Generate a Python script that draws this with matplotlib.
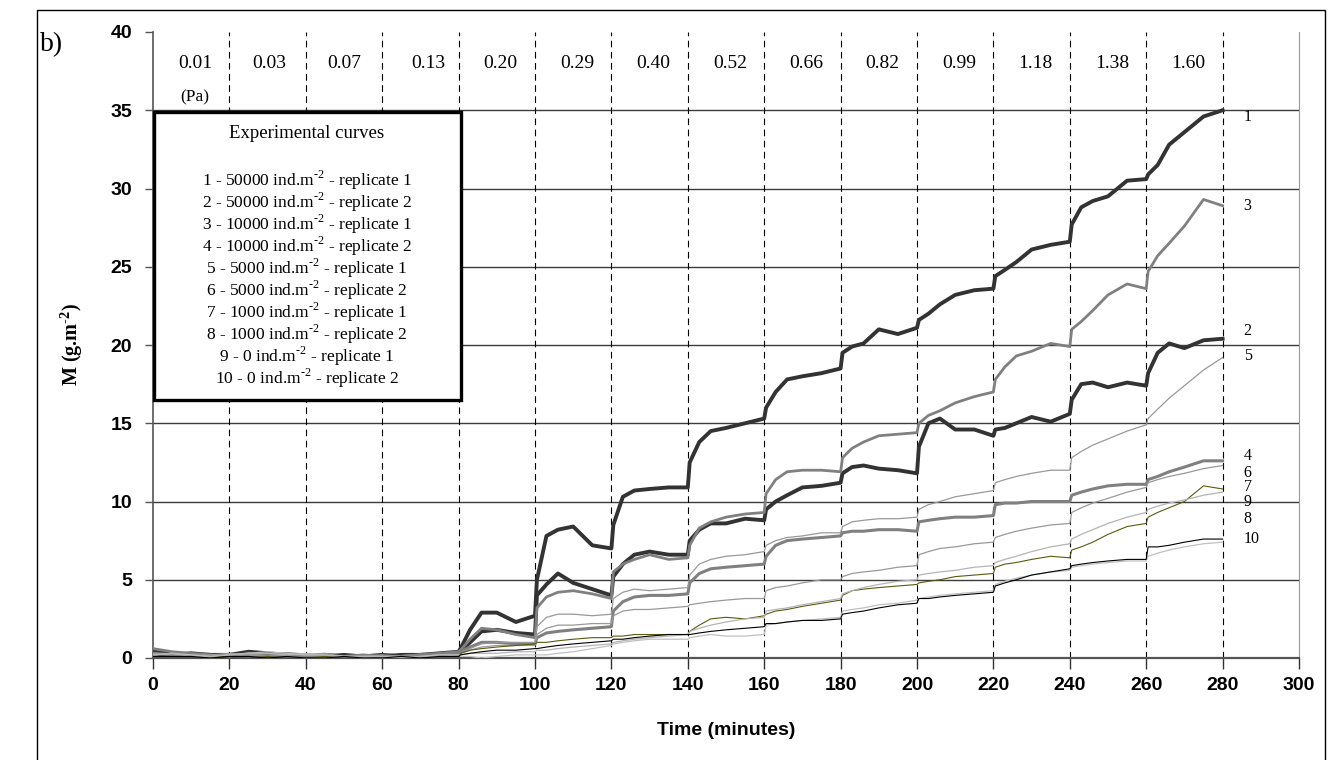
import numpy as np
import matplotlib.pyplot as plt
from matplotlib.patches import Rectangle

plt.rcParams['font.family'] = ['Liberation Sans', 'DejaVu Sans']
plt.rcParams['mathtext.fontset'] = 'custom'
plt.rcParams['mathtext.rm'] = 'Liberation Serif'
plt.rcParams['mathtext.bf'] = 'Liberation Serif:bold'

# sampling times (minutes)
time = [0, 5, 10, 15, 20, 25, 30, 35, 40, 45, 50, 55, 60, 65, 70, 75, 80,
        80.5, 83, 86, 90, 95, 100,
        100.5, 103, 106, 110, 115, 120,
        120.5, 123, 126, 130, 135, 140,
        140.5, 143, 146, 150, 155, 160,
        160.5, 163, 166, 170, 175, 180,
        180.5, 183, 186, 190, 195, 200,
        200.5, 203, 206, 210, 215, 220,
        220.5, 223, 226, 230, 235, 240,
        240.5, 243, 246, 250, 255, 260,
        260.5, 263, 266, 270, 275, 280]

# eroded mass M (g.m-2) for each core
m1 = [0.4, 0.3, 0.2, 0.2, 0.1, 0.3, 0.2, 0.2, 0.1, 0.1, 0.2, 0.1, 0.1, 0.2, 0.2, 0.3, 0.4,
      0.6, 1.8, 2.9, 2.9, 2.3, 2.7,
      5.0, 7.8, 8.2, 8.4, 7.2, 7.0,
      8.5, 10.3, 10.7, 10.8, 10.9, 10.9,
      12.5, 13.8, 14.5, 14.7, 15.0, 15.3,
      16.0, 17.0, 17.8, 18.0, 18.2, 18.5,
      19.5, 19.9, 20.1, 21.0, 20.7, 21.1,
      21.6, 22.0, 22.6, 23.2, 23.5, 23.6,
      24.4, 24.8, 25.3, 26.1, 26.4, 26.6,
      27.7, 28.8, 29.2, 29.5, 30.5, 30.6,
      30.9, 31.5, 32.8, 33.6, 34.6, 35.0]
m2 = [0.3, 0.2, 0.3, 0.2, 0.2, 0.4, 0.3, 0.2, 0.1, 0.2, 0.1, 0.1, 0.2, 0.1, 0.2, 0.2, 0.3,
      0.4, 1.0, 1.7, 1.8, 1.6, 1.5,
      4.0, 4.7, 5.4, 4.8, 4.4, 4.0,
      5.2, 6.0, 6.6, 6.8, 6.6, 6.6,
      7.5, 8.2, 8.6, 8.6, 8.9, 8.8,
      9.5, 10.0, 10.4, 10.9, 11.0, 11.2,
      11.8, 12.2, 12.3, 12.1, 12.0, 11.8,
      13.5, 15.0, 15.3, 14.6, 14.6, 14.2,
      14.6, 14.7, 15.0, 15.4, 15.1, 15.6,
      16.5, 17.5, 17.6, 17.3, 17.6, 17.4,
      18.2, 19.5, 20.1, 19.8, 20.3, 20.4]
m3 = [0.6, 0.4, 0.3, 0.2, 0.1, 0.3, 0.2, 0.3, 0.2, 0.1, 0.1, 0.2, 0.1, 0.1, 0.2, 0.3, 0.4,
      0.5, 1.2, 1.9, 1.8, 1.5, 1.3,
      3.2, 3.9, 4.2, 4.3, 4.1, 3.8,
      5.5, 6.0, 6.3, 6.6, 6.3, 6.4,
      7.2, 8.3, 8.7, 9.0, 9.2, 9.3,
      10.5, 11.4, 11.9, 12.0, 12.0, 11.9,
      12.8, 13.4, 13.8, 14.2, 14.3, 14.4,
      15.0, 15.5, 15.8, 16.3, 16.7, 17.0,
      17.8, 18.6, 19.3, 19.6, 20.1, 19.9,
      21.0, 21.5, 22.2, 23.2, 23.9, 23.6,
      24.7, 25.7, 26.5, 27.6, 29.3, 28.9]
m4 = [0.3, 0.2, 0.2, 0.1, 0.2, 0.1, 0.2, 0.1, 0.1, 0.1, 0.0, 0.1, 0.1, 0.1, 0.2, 0.2, 0.3,
      0.4, 0.7, 1.0, 1.0, 0.9, 0.9,
      1.3, 1.6, 1.7, 1.8, 1.9, 2.0,
      3.0, 3.6, 3.9, 4.0, 4.0, 4.1,
      4.8, 5.4, 5.7, 5.8, 5.9, 6.0,
      6.5, 7.2, 7.5, 7.6, 7.7, 7.8,
      8.0, 8.1, 8.1, 8.2, 8.2, 8.1,
      8.7, 8.8, 8.9, 9.0, 9.0, 9.1,
      9.8, 9.9, 9.9, 10.0, 10.0, 10.0,
      10.4, 10.6, 10.8, 11.0, 11.1, 11.1,
      11.4, 11.6, 11.9, 12.2, 12.6, 12.6]
m5 = [0.2, 0.3, 0.2, 0.2, 0.3, 0.2, 0.3, 0.2, 0.2, 0.3, 0.1, 0.1, 0.2, 0.1, 0.1, 0.2, 0.2,
      0.3, 0.6, 0.9, 1.0, 1.0, 1.0,
      2.0, 2.6, 2.8, 2.8, 2.7, 2.8,
      3.8, 4.2, 4.4, 4.3, 4.4, 4.5,
      5.3, 6.0, 6.3, 6.5, 6.6, 6.8,
      7.2, 7.5, 7.7, 7.8, 8.0, 8.0,
      8.4, 8.7, 8.8, 8.9, 8.9, 9.0,
      9.5, 9.8, 10.0, 10.3, 10.5, 10.7,
      11.2, 11.4, 11.6, 11.8, 12.0, 12.0,
      12.8, 13.2, 13.6, 14.0, 14.5, 14.9,
      15.3, 15.9, 16.6, 17.4, 18.4, 19.2]
m6 = [0.3, 0.2, 0.2, 0.1, 0.1, 0.2, 0.1, 0.2, 0.2, 0.1, 0.1, 0.0, 0.1, 0.1, 0.1, 0.2, 0.2,
      0.3, 0.5, 0.7, 0.8, 0.8, 0.8,
      1.5, 1.9, 2.1, 2.1, 2.2, 2.2,
      2.7, 3.0, 3.1, 3.1, 3.2, 3.3,
      3.4, 3.5, 3.6, 3.7, 3.8, 3.8,
      4.3, 4.5, 4.6, 4.8, 5.0, 5.0,
      5.2, 5.4, 5.5, 5.6, 5.8, 5.9,
      6.6, 6.8, 7.0, 7.1, 7.3, 7.4,
      7.7, 7.9, 8.1, 8.3, 8.5, 8.6,
      9.3, 9.6, 9.9, 10.2, 10.6, 10.9,
      11.2, 11.4, 11.6, 11.8, 12.1, 12.3]
m7 = [0.1, 0.1, 0.0, 0.1, 0.1, 0.0, 0.1, 0.0, 0.0, 0.1, 0.0, 0.1, 0.0, 0.0, 0.1, 0.1, 0.2,
      0.3, 0.5, 0.6, 0.7, 0.8, 0.9,
      1.0, 1.0, 1.1, 1.2, 1.3, 1.3,
      1.4, 1.4, 1.5, 1.5, 1.5, 1.5,
      1.7, 2.1, 2.5, 2.6, 2.5, 2.7,
      2.8, 3.0, 3.1, 3.3, 3.5, 3.7,
      4.0, 4.3, 4.4, 4.5, 4.6, 4.7,
      4.8, 4.9, 5.0, 5.2, 5.3, 5.4,
      5.8, 6.0, 6.1, 6.3, 6.5, 6.4,
      6.9, 7.1, 7.4, 7.9, 8.4, 8.6,
      9.0, 9.3, 9.6, 10.0, 11.0, 10.8]
m8 = [0.2, 0.3, 0.2, 0.1, 0.2, 0.3, 0.4, 0.3, 0.2, 0.2, 0.1, 0.1, 0.1, 0.0, 0.1, 0.2, 0.2,
      0.1, 0.1, 0.0, 0.1, 0.2, 0.2,
      0.2, 0.2, 0.3, 0.4, 0.6, 0.8,
      0.9, 1.0, 1.1, 1.2, 1.2, 1.2,
      1.3, 1.4, 1.5, 1.4, 1.4, 1.5,
      2.1, 2.2, 2.3, 2.4, 2.5, 2.6,
      3.0, 3.1, 3.2, 3.4, 3.5, 3.7,
      3.8, 3.9, 4.0, 4.1, 4.2, 4.3,
      4.7, 4.9, 5.1, 5.3, 5.5, 5.6,
      5.8, 5.9, 6.0, 6.1, 6.2, 6.2,
      6.5, 6.7, 6.9, 7.1, 7.3, 7.4]
m9 = [0.2, 0.3, 0.1, 0.1, 0.2, 0.3, 0.3, 0.2, 0.3, 0.2, 0.1, 0.1, 0.1, 0.0, 0.1, 0.1, 0.2,
      0.2, 0.3, 0.3, 0.3, 0.4, 0.4,
      0.5, 0.5, 0.6, 0.7, 0.8, 0.9,
      1.0, 1.1, 1.2, 1.3, 1.4, 1.5,
      1.7, 1.9, 2.1, 2.3, 2.5, 2.6,
      3.0, 3.1, 3.2, 3.4, 3.6, 3.8,
      4.1, 4.3, 4.5, 4.7, 4.9, 5.0,
      5.3, 5.4, 5.5, 5.6, 5.8, 5.9,
      6.1, 6.3, 6.5, 6.8, 7.1, 7.3,
      7.6, 7.9, 8.2, 8.6, 9.0, 9.3,
      9.5, 9.7, 9.9, 10.1, 10.4, 10.6]
m10 = [0.1, 0.1, 0.1, 0.0, 0.1, 0.1, 0.0, 0.1, 0.0, 0.0, 0.1, 0.0, 0.0, 0.1, 0.0, 0.1, 0.1,
       0.2, 0.3, 0.4, 0.5, 0.5, 0.6,
       0.6, 0.7, 0.8, 0.9, 1.0, 1.1,
       1.2, 1.2, 1.3, 1.4, 1.5, 1.5,
       1.5, 1.6, 1.7, 1.8, 1.9, 2.0,
       2.2, 2.2, 2.3, 2.4, 2.4, 2.5,
       2.8, 2.9, 3.0, 3.2, 3.4, 3.5,
       3.8, 3.8, 3.9, 4.0, 4.1, 4.2,
       4.6, 4.8, 5.0, 5.3, 5.5, 5.7,
       5.9, 6.0, 6.1, 6.2, 6.3, 6.3,
       7.1, 7.1, 7.2, 7.4, 7.6, 7.6]

series = [m1, m2, m3, m4, m5, m6, m7, m8, m9, m10]
colors = ['#333333', '#333333', '#808080', '#808080', '#999999',
          '#999999', '#5a5a10', '#c0c0c0', '#b4b4b4', '#000000']
widths = [2.8, 2.8, 2.0, 2.2, 0.9, 0.9, 0.8, 0.9, 0.9, 0.8]

# bed shear stress applied during each 20 min step (Pa)
stress = ['0.01', '0.03', '0.07', '0.13', '0.20', '0.29', '0.40',
          '0.52', '0.66', '0.82', '0.99', '1.18', '1.38', '1.60']
stress_x = [11, 30.5, 50, 72, 91, 111, 131, 151, 171, 191, 211, 231, 251, 271]

curve_ids = ['1', '3', '2', '5', '4', '6', '7', '9', '8', '10']
curve_id_y = [34.6, 28.9, 20.9, 19.3, 12.9, 11.8, 10.9, 10.0, 8.9, 7.6]

legend_rows = [
    r'1 - 50000 ind.m$^{\text{-2}}$ - replicate 1',
    r'2 - 50000 ind.m$^{\text{-2}}$ - replicate 2',
    r'3 - 10000 ind.m$^{\text{-2}}$ - replicate 1',
    r'4 - 10000 ind.m$^{\text{-2}}$ - replicate 2',
    r'5 - 5000 ind.m$^{\text{-2}}$ - replicate 1',
    r'6 - 5000 ind.m$^{\text{-2}}$ - replicate 2',
    r'7 - 1000 ind.m$^{\text{-2}}$ - replicate 1',
    r'8 - 1000 ind.m$^{\text{-2}}$ - replicate 2',
    r'9 - 0 ind.m$^{\text{-2}}$ - replicate 1',
    r'10 - 0 ind.m$^{\text{-2}}$ - replicate 2',
]

fig = plt.figure(figsize=(13.36, 7.6), dpi=100)
ax = fig.add_axes([153 / 1336, 102 / 760, 1146 / 1336, 626 / 760])

# outer frame and panel letter
fig.add_artist(Rectangle((37 / 1336, -0.01), 1288 / 1336, 1.0 - 10 / 760 + 0.01,
                         transform=fig.transFigure, fill=False, ec='black', lw=1.0))
fig.text(40 / 1336, 1 - 45 / 760, 'b)', family='Liberation Serif', fontsize=20,
         va='center', ha='left')

for y in range(5, 40, 5):
    ax.axhline(y, color='#3c3c3c', lw=1.0, zorder=1)
for x in range(20, 300, 20):
    ax.axvline(x, color='black', lw=0.8, linestyle=(0, (6, 4)), zorder=1)

for m, c, w in zip(series, colors, widths):
    ax.plot(time, m, color=c, lw=w, zorder=3)

ax.set_xlim(0, 300)
ax.set_ylim(0, 40)
ax.set_xticks(range(0, 301, 20))
ax.set_yticks(range(0, 41, 5))
ax.spines['top'].set_visible(False)
ax.spines['right'].set_color('#999999')
ax.spines['left'].set_color('#555555')
ax.spines['bottom'].set_color('#555555')
ax.spines['bottom'].set_linewidth(1.6)
ax.spines['left'].set_linewidth(1.2)
ax.tick_params(axis='y', length=6, width=1, color='#555555', pad=9)
ax.tick_params(axis='x', length=8, width=1, color='#333333', pad=6)
for lab in ax.get_xticklabels() + ax.get_yticklabels():
    lab.set_fontweight('bold')
    lab.set_fontsize(14)

ax.set_xlabel('Time (minutes)', fontsize=14, fontweight='bold', labelpad=20)
ax.set_ylabel('M (g.m$^{\\mathbf{\u20102}}$)', fontsize=14.5, fontweight='bold',
              family='Liberation Serif', labelpad=18)

for s, x in zip(stress, stress_x):
    ax.text(x, 38.0, s, family='Liberation Serif', fontsize=14, ha='center', va='center')
ax.text(11, 35.8, '(Pa)', family='Liberation Serif', fontsize=12.5, ha='center', va='center')

for lab, y in zip(curve_ids, curve_id_y):
    ax.text(285.5, y, lab, family='Liberation Serif', fontsize=11.5, ha='left', va='center')

# legend box listing the experimental curves
ax.add_patch(Rectangle((0.3, 16.5), 80.4, 18.4, fill=False, ec='black', lw=2.4,
                       zorder=5, clip_on=False))
ax.add_patch(Rectangle((0.3, 16.5), 80.4, 18.4, fc='white', ec='none', zorder=4))
ax.text(40.3, 33.5, 'Experimental curves', family='Liberation Serif', fontsize=13.5,
        ha='center', va='center', zorder=6)
for k, row in enumerate(legend_rows):
    ax.text(40.3, 30.5 - 1.406 * k, row, family='Liberation Serif', fontsize=12.5,
            ha='center', va='center', zorder=6)

fig.savefig('out.png', dpi=100)
